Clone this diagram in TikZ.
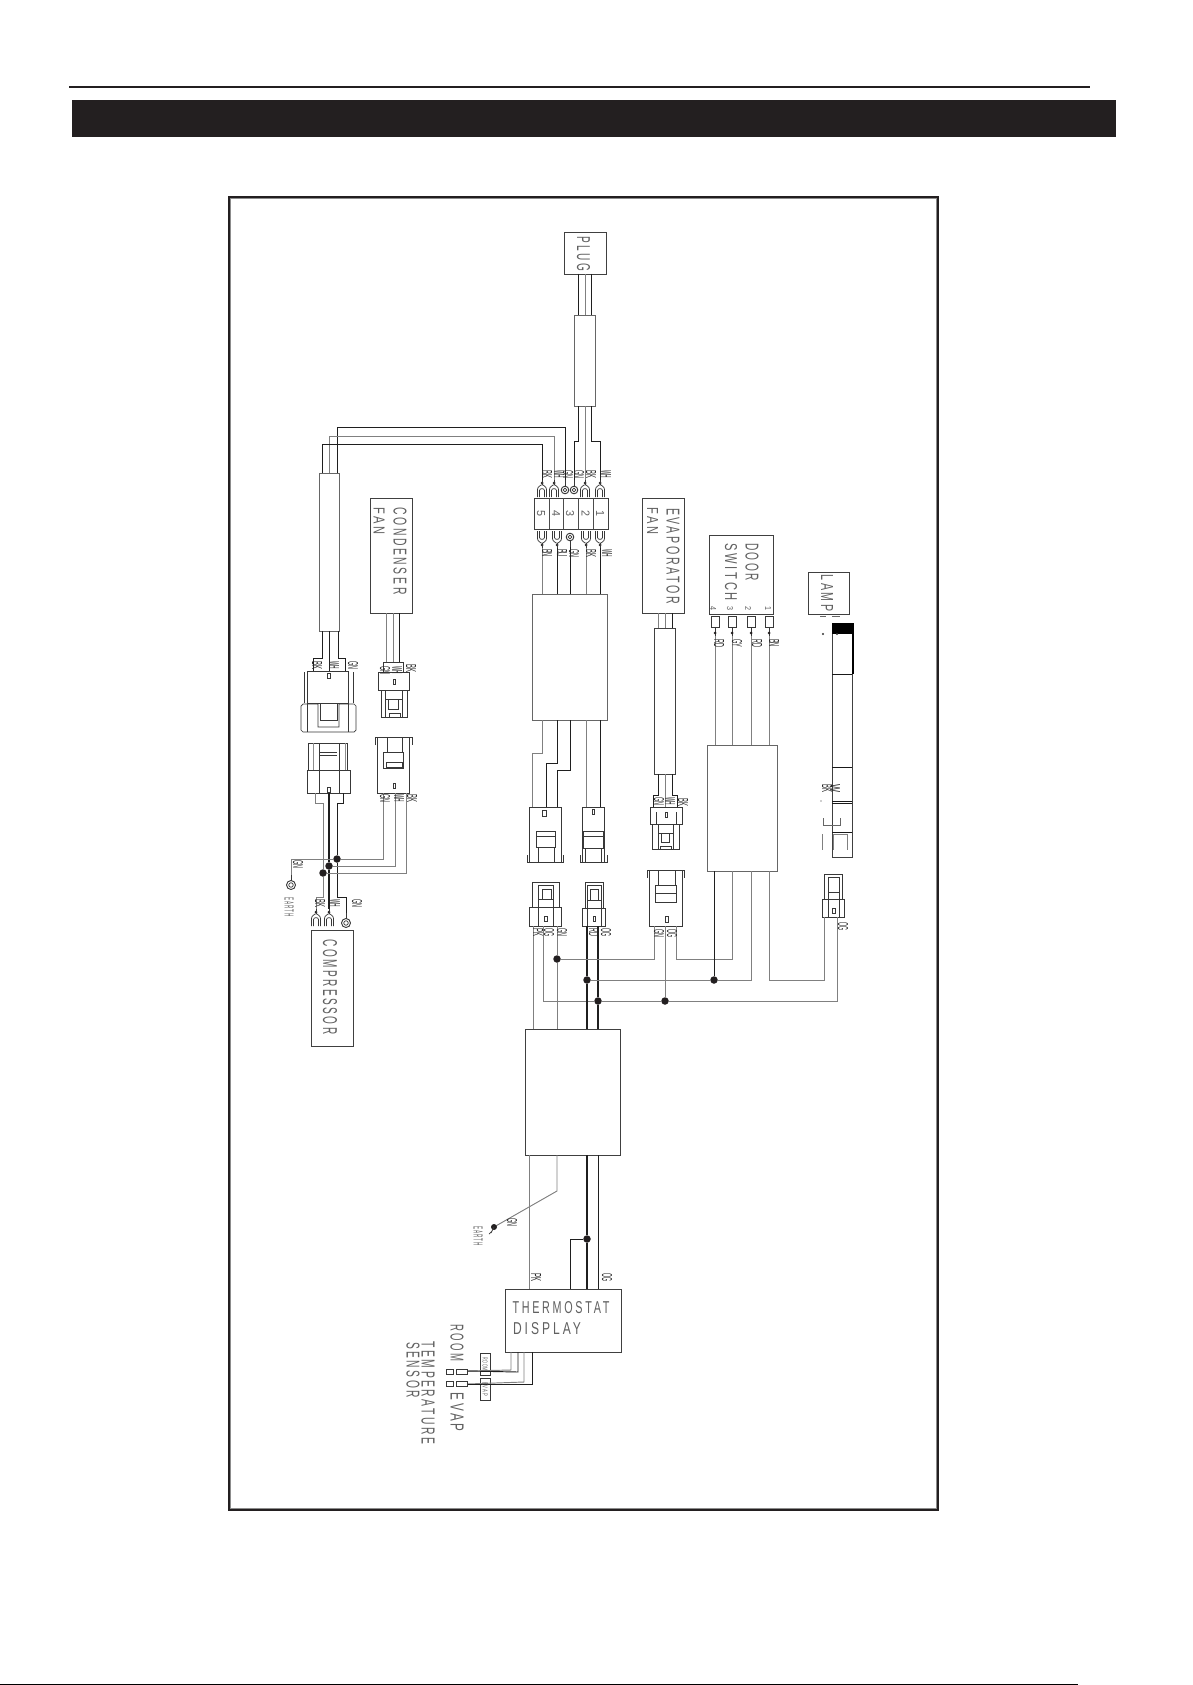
\documentclass[tikz,border=0pt]{standalone}
\usepackage{fontspec}
\setmainfont{Liberation Sans}
\newfontfamily\cadf[LetterSpace=25]{Liberation Sans}
\usepackage{graphicx}
\definecolor{ink}{HTML}{231F20}
\newcounter{lbn}
\newcommand{\ft}[3]{\resizebox{#1pt}{#2pt}{#3}}
\newcommand{\bx}[6][boxln]{\node[#1, minimum width={(#5-#3)*1pt}, minimum height={(#6-#4)*1pt}] (#2) at ({(#3+#5)/2},{(#4+#6)/2}) {};}
\newcommand{\rtxt}[6]{\node[cad,rotate=-90] (#1) at (#2,#3) {\ft{#4}{#5}{\cadf #6}};}
\newcommand{\htxt}[6]{\node[cad] (#1) at (#2,#3) {\ft{#4}{#5}{\cadf #6}};}
\newcommand{\lb}[3]{\stepcounter{lbn}\node[tiny lab,rotate=-90] (lb\arabic{lbn}) at (#1,#2) {\ft{8}{10}{#3}};}
% fork terminal: #1 name of wire end, #2 x, #3 y of closed end, #4 +1 opens downward, -1 opens upward
\newcommand{\forkt}[4]{%
 \begin{scope}[shift={(#2,#3)},yscale=#4]
  \draw[pt] (-4.5,12) -- (-4.5,4.5) .. controls (-4.5,1) and (-1,1) .. (-1,0) -- (1,0) .. controls (1,1) and (4.5,1) .. (4.5,4.5) -- (4.5,12);
  \draw[pt] (-2.5,12) -- (-2.5,5.5) .. controls (-2.5,3) and (2.5,3) .. (2.5,5.5) -- (2.5,12);
  \fill[ink] (0,-2) circle (1.5);
  \draw[pt] (0,0) -- (0,-5) coordinate (#1);
 \end{scope}}
% ring terminal
\newcommand{\ringt}[5]{%
 \begin{scope}[shift={(#2,#3)},yscale=#4]
  \draw[pt,line width=.9pt] (0,0) circle (#5);
  \draw[pt] (0,0) circle (#5*.5);
  \draw[pt] (0,-#5) -- (0,-#5-6) coordinate (#1);
 \end{scope}}
\tikzset{
 boxln/.style={draw=black!75,line width=.9pt,inner sep=0pt,outer sep=0pt},
 sleeve/.style={draw=black!60,line width=.9pt,inner sep=0pt,outer sep=0pt},
 cad/.style={inner sep=0pt,outer sep=0pt,text=black!62},
 tiny lab/.style={inner sep=0pt,outer sep=0pt,text=black!85},
 pt/.style={draw=black!78,line width=.7pt},
 wk/.style={draw=black!88,line width=.95pt},
 wg/.style={draw=black!50,line width=.95pt},
 jn/.style={circle,fill=ink,inner sep=0pt,minimum size=7.5pt},
}
\begin{document}
\begin{tikzpicture}[x=1pt,y=-1pt]
\useasboundingbox (0,0) rectangle (1192,1685);
\fill[white] (0,0) rectangle (1192,1685);
% page furniture
\draw[ink,line width=2pt] (69,87) -- (1090,87);
\fill[ink] (72,100) rectangle (1116,137);
\draw[black!45,line width=.9pt] (230.6,198.6) rectangle (936.4,1508.4);
\draw[ink,line width=2pt] (229,197) rectangle (938,1510);
\draw[black,line width=1pt] (0,1684.5) -- (1078,1684.5);

% ---------- boxes ----------
\bx{plug}{564}{232}{606}{274}
\bx[sleeve]{sl1}{574}{315}{595}{406}
\bx{cond}{370}{498}{412}{613}
\bx[sleeve]{sl2}{319}{473}{339}{631}
\bx{block}{534}{498}{608}{529}
\bx[sleeve]{midb}{532}{594}{607}{720}
\bx{evap}{642}{498}{684}{613}
\bx{sl3}{654}{628}{675}{774}
\bx{door}{709}{535}{773}{614}
\bx[sleeve]{doorb}{707}{745}{777}{871}
\bx{lamp}{808}{572}{849}{614}
\bx{comp}{311}{930}{353}{1046}
\bx{bigb}{525}{1029}{620}{1155}
\bx{thermo}{505}{1289}{621}{1352}
\bx[pt,inner sep=0pt,outer sep=0pt]{tagR}{480}{1353}{490}{1375}
\bx[pt,inner sep=0pt,outer sep=0pt]{tagE}{480}{1378}{490}{1400}

% block dividers
\draw[black!70,line width=.8pt] (549,498) -- (549,529) (563,498) -- (563,529) (578,498) -- (578,529) (593,498) -- (593,529);

% ---------- terminals ----------
\forkt{tu5}{542}{485}{1}
\forkt{tu4}{554}{485}{1}
\ringt{tu3a}{565}{490}{1}{3.8}
\ringt{tu3b}{574}{490}{1}{3.8}
\forkt{tu2}{585}{485}{1}
\forkt{tu1}{600}{485}{1}
\forkt{tl5}{542}{543}{-1}
\forkt{tl4}{557}{543}{-1}
\ringt{tl3}{570}{537}{-1}{3.8}
\forkt{tl2}{586}{543}{-1}
\forkt{tl1}{600}{543}{-1}
\forkt{cfL}{316}{914}{1}
\forkt{cfM}{329}{914}{1}
\ringt{cfR}{346}{923}{1}{4.5}
\ringt{eR}{291}{885}{1}{4.5}
% door switch spade terminals
\foreach \n/\xx in {a/715,b/732,c/751,d/769}{
  \draw[pt] ({\xx-4},616) rectangle ({\xx+4},627);
  \draw[pt] (\xx,627) -- (\xx,636) coordinate (ds\n);
  \fill[ink] (\xx,633) circle (1.5);
}

% ---------- plug and left harness wires ----------
\draw[wk] (plug.south -| 578,0) -- (sl1.north -| 578,0);
\draw[wg] (plug.south -| 585,0) -- (sl1.north -| 585,0);
\draw[wk] (plug.south -| 591,0) -- (sl1.north -| 591,0);
\draw[wk] (sl1.south -| 578,0) -- (578,441) -- (574,441) -- (tu3b);
\draw[wg] (sl1.south -| 585,0) -- (tu2);
\draw[wk] (sl1.south -| 591,0) -- (591,441) -- (600,441) -- (tu1);
\draw[wk] (sl2.north -| 337,0) -- (337,427) -- (565,427) -- (tu3a);
\draw[wg] (sl2.north -| 329,0) -- (329,436) -- (554,436) -- (tu4);
\draw[wk] (sl2.north -| 322,0) -- (322,444) -- (542,444) -- (tu5);

% block to mid box
\draw[wg] (tl5) -- (midb.north -| 542,0);
\draw[wk] (tl4) -- (midb.north -| 557,0);
\draw[wk] (tl3) -- (midb.north -| 570,0);
\draw[wg] (tl2) -- (midb.north -| 586,0);
\draw[wk] (tl1) -- (midb.north -| 600,0);

% ---------- connector A/B below mid box ----------
\bx[pt,inner sep=0pt,outer sep=0pt]{cA}{529}{807}{561}{862}
\bx[pt,inner sep=0pt,outer sep=0pt]{cB}{582}{807}{604}{862}
\draw[wg] (midb.south -| 542,0) -- (542,753) -- (532,753) -- (cA.north -| 532,0);
\draw[wk] (midb.south -| 557,0) -- (557,763) -- (546,763) -- (cA.north -| 546,0);
\draw[wk] (midb.south -| 570,0) -- (570,770) -- (557,770) -- (cA.north -| 557,0);
\draw[wg] (midb.south -| 586,0) -- (cB.north -| 586,0);
\draw[wk] (midb.south -| 600,0) -- (cB.north -| 600,0);
\draw[pt] (527,855) -- (527,862) -- (563,862) -- (563,855);
\draw[pt] (536,831) rectangle (555,847) (536,836) -- (555,836) (538,847) -- (538,862) (554,847) -- (554,862);
\draw[pt] (542,810) rectangle (546,816);
\draw[pt] (580,855) -- (580,862) -- (607,862) -- (607,855);
\draw[pt] (583,831) rectangle (603,848) (583,836) -- (603,836);
\draw[pt] (592,809) rectangle (594.5,814);
\draw[pt] (585,848) -- (585,862) (601,848) -- (601,862);

% ---------- connector C/D ----------
\bx[pt,inner sep=0pt,outer sep=0pt]{cC}{529}{907}{561}{926}
\bx[pt,inner sep=0pt,outer sep=0pt]{cD}{582}{908}{605}{926}
\draw[pt] (532,907) -- (532,882) -- (559,882) -- (559,907);
\draw[pt] (538,885) rectangle (553,899) (538,899) rectangle (553,907) (542,889) rectangle (551,899);
\draw[pt] (538,907) -- (538,926) (553,907) -- (553,926);
\draw[pt] (544,916) rectangle (547,921);
\draw[pt] (585,908) -- (585,882) -- (603,882) -- (603,908);
\draw[pt] (587,885) rectangle (601,900) (587,900) rectangle (601,908) (590,889) rectangle (598,900);
\draw[pt] (587,908) -- (587,926) (601,908) -- (601,926);
\draw[pt] (593,916) rectangle (595,921);

% ---------- connector E/F ----------
\bx[pt,inner sep=0pt,outer sep=0pt]{cE}{649}{870}{682}{926}
\draw[pt] (647,870) -- (647,878) (684,870) -- (684,878) (647,870) -- (684,870);
\draw[pt] (655,885) rectangle (676,902) (655,893) -- (676,893) (658,870) -- (658,885) (675,870) -- (675,885);
\draw[pt] (665,916) rectangle (668,922);
\bx[pt,inner sep=0pt,outer sep=0pt]{cF}{650}{807}{682}{824}
\draw[pt] (652,824) -- (652,849) -- (679,849) -- (679,824);
\draw[pt] (658,824) rectangle (673,833) (661,833) rectangle (669,842) (658,833) -- (658,849) (673,833) -- (673,849);
\draw[pt] (656,812) -- (656,824) (676,812) -- (676,824);
\draw[pt] (665,812) rectangle (667,817);
\draw[pt] (660,849) -- (660,846) -- (671,846) -- (671,849);

% ---------- evaporator wires ----------
\draw[wg] (evap.south -| 658,0) -- (sl3.north -| 658,0);
\draw[wg] (evap.south -| 665,0) -- (sl3.north -| 665,0);
\draw[wk] (evap.south -| 672,0) -- (sl3.north -| 672,0);
\draw[wk] (sl3.south -| 658,0) -- (658,795) -- (653,795) -- (cF.north -| 653,0);
\draw[wg] (sl3.south -| 665,0) -- (cF.north -| 665,0);
\draw[wk] (sl3.south -| 672,0) -- (672,795) -- (677,795) -- (cF.north -| 677,0);

% ---------- door switch wires ----------
\draw[wg] (dsa) -- (doorb.north -| 715,0);
\draw[wg] (dsb) -- (doorb.north -| 732,0);
\draw[wg] (dsc) -- (doorb.north -| 751,0);
\draw[wg] (dsd) -- (doorb.north -| 769,0);

% ---------- connector G + lamp holder ----------
\bx[pt,inner sep=0pt,outer sep=0pt]{cG}{822}{899}{844}{917}
\draw[pt] (824,899) -- (824,874) -- (842,874) -- (842,899);
\draw[pt] (828,877) rectangle (839,892) (828,892) rectangle (839,899);
\draw[pt] (828,899) -- (828,917) (839,899) -- (839,917);
\draw[pt] (832,908) rectangle (835,913);
\bx{lbar}{832}{623}{852}{857}
\fill[black] (832,623) rectangle (853,634);
\draw[black,line width=1.8pt] (853,623) -- (853,674);
\draw[black!90,line width=.9pt] (832,674) -- (852,674) (832,767) -- (852,767) (832,801) -- (852,801) (832,803) -- (852,803) (832,832) -- (852,832);
\draw[black!60,line width=.8pt] (823,818) -- (823,825) -- (840,825) -- (840,818);
\draw[black!50,line width=.8pt] (822,834) -- (822,850) (833,834) -- (833,850) (833,834) -- (847,834) -- (847,850);
\draw[black!60,line width=1pt] (820,616) -- (826,616) (832,616) -- (840,616);
\fill[black!80] (823,634) circle (1.2) (837,634) circle (1.2) (821,801) circle (.6);

% ---------- junctions ----------
\node[jn] (j1) at (557,959) {};
\node[jn] (j2) at (587,980) {};
\node[jn] (j3) at (598,1001) {};
\node[jn] (j4) at (665,1001) {};
\node[jn] (j5) at (714,980) {};
\node[jn] (j6) at (587,1239) {};
\node[jn] (d1) at (337,859) {};
\node[jn] (d2) at (329,866) {};
\node[jn] (d3) at (323,873) {};

% ---------- wires around junctions ----------
\draw[wg] (cC.south -| 533,0) -- (bigb.north -| 533,0);
\draw[wg] (cC.south -| 557,0) -- (j1) -- (bigb.north -| 557,0);
\draw[wg] (cC.south -| 543,0) -- (543,1001) -- (j3) -- (j4) -- (837,1001) -- (cG.south -| 837,0);
\draw[wk,line width=1.1pt] (cD.south -| 587,0) -- (j2) -- (bigb.north -| 587,0);
\draw[wk,line width=1.1pt] (cD.south -| 598,0) -- (j3) -- (bigb.north -| 598,0);
\draw[wg] (j1) -- (654,959) -- (cE.south -| 654,0);
\draw[wg] (cE.south -| 665,0) -- (j4);
\draw[wg] (cE.south -| 676,0) -- (676,959) -- (732,959) -- (doorb.south -| 732,0);
\draw[wg] (j2) -- (j5) -- (751,980) -- (doorb.south -| 751,0);
\draw[wk] (j5) -- (doorb.south -| 714,0);
\draw[wg] (doorb.south -| 769,0) -- (769,980) -- (824,980) -- (cG.south -| 824,0);

% ---------- condenser connectors and wires ----------
\bx[pt,inner sep=0pt,outer sep=0pt]{cP}{378}{672}{409}{690}
\draw[pt] (381,690) -- (381,717) -- (407,717) -- (407,690);
\draw[pt] (385,690) rectangle (402,699) (388,699) rectangle (398,709) (385,699) -- (385,717) (402,699) -- (402,717);
\draw[pt] (383,672) -- (383,662) -- (403,662) -- (403,672) (393,679) rectangle (395,684);
\draw[pt] (389,717) -- (389,713) -- (400,713) -- (400,717);
\draw[wg] (cond.south -| 386,0) -- (386,662);
\draw[wg] (cond.south -| 393,0) -- (393,662);
\draw[wk] (cond.south -| 399,0) -- (399,662);
\bx[pt,inner sep=0pt,outer sep=0pt]{cS}{377}{737}{409}{793}
\draw[pt] (375,745) -- (375,737) -- (412,737) -- (412,745);
\draw[pt] (383,752) rectangle (403,768) (387,737) -- (387,752) (402,737) -- (402,752) (386,762) rectangle (402,767);
\draw[pt] (393,783) rectangle (395,788);
\bx[pt,inner sep=0pt,outer sep=0pt]{cQ}{307}{671}{348}{703}
\draw[wk] (sl2.south -| 322,0) -- (322,658) -- (313,658) -- (cQ.north -| 313,0);
\draw[wk] (sl2.south -| 329,0) -- (cQ.north -| 329,0);
\draw[wk] (sl2.south -| 338,0) -- (338,658) -- (345,658) -- (cQ.north -| 345,0);
\draw[pt] (304,672) -- (304,703) (353,672) -- (353,703);
\draw[pt] (303,704) -- (301,706) -- (301,730) -- (303,732) -- (354,732) -- (356,730) -- (356,706) -- (354,704) -- (339,704) -- (339,727) -- (318,727) -- (318,704) -- cycle;
\draw[pt] (307,703) -- (307,732) (348,703) -- (348,732);
\draw[pt] (320,703) -- (320,720) -- (337,720) -- (337,703);
\draw[pt] (327.5,673) rectangle (330,678);
\bx[pt,inner sep=0pt,outer sep=0pt]{cR}{307}{770}{350}{793}
\draw[pt] (308,770) -- (308,743) -- (347,743) -- (347,770);
\draw[draw=black!45,line width=.7pt] (313,743) -- (313,770) (345,743) -- (345,770);
\draw[pt] (319,743) -- (319,793) (339,743) -- (339,793);
\draw[pt] (320,752) -- (337,752) (320,755) -- (337,755);
\draw[pt] (327.5,787) rectangle (330,792);
\draw[wg] (cR.south -| 315,0) -- (315,803) -- (323,803) -- (d3) -- (323,897) -- (316,897) -- (cfL);
\draw[wk,line width=1.1pt] (cR.south -| 329,0) -- (d2) -- (cfM);
\draw[wk] (cR.south -| 343,0) -- (343,803) -- (337,803) -- (d1) -- (337,897) -- (346,897) -- (cfR);
\draw[wg] (eR) -- (291,859) -- (d1) -- (383,859) -- (cS.south -| 383,0);
\draw[wg] (d2) -- (395,866) -- (cS.south -| 395,0);
\draw[wg] (d3) -- (406,873) -- (cS.south -| 406,0);

% ---------- lower harness ----------
\draw[wg] (bigb.south -| 529,0) -- (thermo.north -| 529,0);
\coordinate (gndc) at (494,1227);
\draw[wg] (bigb.south -| 557,0) -- (557,1191) -- (gndc);
\fill[ink] (gndc) circle (3);
\draw[pt] (gndc) -- (491,1233) (489,1234) -- (492,1231);
\draw[wk,line width=1.1pt] (bigb.south -| 587,0) -- (j6) -- (thermo.north -| 587,0);
\draw[wk] (j6) -- (570,1239) -- (thermo.north -| 570,0);
\draw[wk] (bigb.south -| 598,0) -- (thermo.north -| 598,0);
% sensors
\coordinate (sa) at (467,1371);
\coordinate (sb) at (467,1384);
\draw[wg] (thermo.south -| 511,0) -- (511,1370) -- (sa);
\draw[wk] (thermo.south -| 518,0) -- (518,1372) -- (sa);
\draw[wg] (thermo.south -| 524,0) -- (524,1382) -- (sb);
\draw[wk] (thermo.south -| 532,0) -- (532,1384) -- (sb);
\draw[pt] (446,1369) rectangle (453,1374) (446,1381) rectangle (453,1386);
\draw[pt] (456,1369) rectangle (467,1374) (456,1381) rectangle (467,1386);

% ---------- large labels ----------
\rtxt{tPlug}{583.5}{254}{35}{13}{PLUG}
\rtxt{tCond}{400}{551}{87}{13}{CONDENSER}
\rtxt{tCFan}{379}{521}{27}{11}{FAN}
\rtxt{tEvap}{673}{556}{96}{13}{EVAPORATOR}
\rtxt{tEFan}{652.5}{521}{27}{11}{FAN}
\rtxt{tDoor}{752}{562}{38}{13}{DOOR}
\rtxt{tSw}{731}{572}{58}{12}{SWITCH}
\rtxt{tLamp}{827}{593}{37}{12}{LAMP}
\rtxt{tComp}{330}{987}{95}{14}{COMPRESSOR}
\htxt{tTh}{561}{1308}{97}{12}{THERMOSTAT}
\htxt{tDi}{547}{1329}{68}{12}{DISPLAY}
\rtxt{tRoom}{457}{1343}{37}{13}{ROOM}
\rtxt{tEv2}{457}{1412}{39}{13}{EVAP}
\rtxt{tTemp}{428}{1393}{103}{13}{TEMPERATURE}
\rtxt{tSens}{413}{1370}{56}{13}{SENSOR}
\rtxt{tE1}{289}{907}{20}{9}{EARTH}
\rtxt{tE2}{478}{1236}{20}{9}{EARTH}
\rtxt{tagRt}{485}{1364}{14}{5}{ROOM}
\rtxt{tagEt}{485}{1389}{14}{5}{EVAP}
% terminal numbers
\rtxt{n5}{541}{513}{6}{8}{5}
\rtxt{n4}{556}{513}{6}{8}{4}
\rtxt{n3}{570}{513}{6}{8}{3}
\rtxt{n2}{585.5}{513}{6}{8}{2}
\rtxt{n1}{600}{513}{6}{8}{1}
\rtxt{d4}{713}{608}{4}{6}{4}
\rtxt{d3}{730}{608}{4}{6}{3}
\rtxt{d2}{748}{608}{4}{6}{2}
\rtxt{d1t}{768}{608}{4}{6}{1}
% ---------- wire colour labels ----------
\lb{547}{474}{BK}
\lb{559}{474}{WH}
\lb{568}{474}{GN}
\lb{579}{474}{GN}
\lb{591}{474}{BK}
\lb{606}{474}{WH}
\lb{547}{553}{BN}
\lb{562}{553}{BU}
\lb{574}{553}{GN}
\lb{591}{553}{BK}
\lb{607}{553}{WH}
\lb{317}{665}{BK}
\lb{334}{665}{WH}
\lb{353}{665}{GN}
\lb{385}{670}{GN}
\lb{397}{670}{WH}
\lb{411}{668}{BK}
\lb{385}{798}{GN}
\lb{399}{798}{WH}
\lb{412}{798}{BK}
\lb{298}{864}{GN}
\lb{320}{903}{BK}
\lb{335}{903}{WH}
\lb{357}{903}{GN}
\lb{538}{932}{PK}
\lb{549}{932}{OG}
\lb{562}{932}{GN}
\lb{594}{932}{RD}
\lb{606}{932}{OG}
\lb{659}{933}{GN}
\lb{672}{933}{OG}
\lb{659}{801}{GN}
\lb{670}{801}{WH}
\lb{683}{802}{BK}
\lb{719}{643}{RD}
\lb{737}{643}{GY}
\lb{757}{643}{RD}
\lb{774}{643}{BN}
\lb{843}{926}{OG}
\lb{835}{788}{W}
\lb{827}{788}{BK}
\lb{512}{1222}{GN}
\lb{536}{1277}{PK}
\lb{607}{1277}{OG}
\end{tikzpicture}
\end{document}
